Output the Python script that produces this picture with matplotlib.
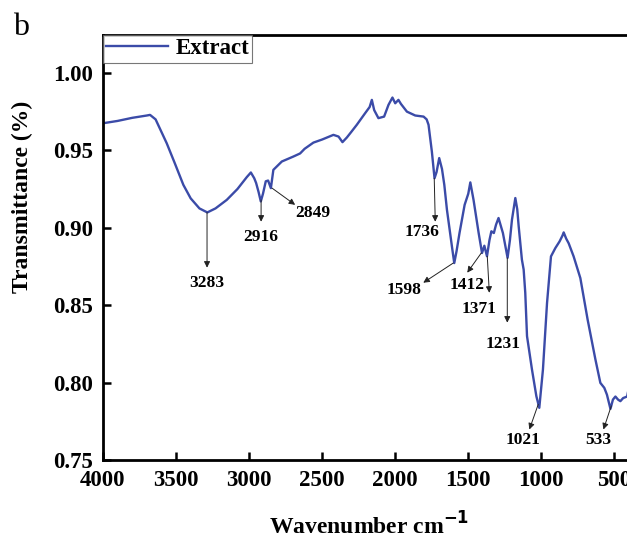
import matplotlib
matplotlib.use("Agg")
import matplotlib.pyplot as plt

plt.rcParams['font.family'] = ['Liberation Serif', 'DejaVu Serif']
plt.rcParams['font.weight'] = 'bold'

wavenumber = [4000, 3900, 3800, 3700, 3678, 3640, 3564, 3510, 3450, 3400, 3340, 3286,
              3230, 3153, 3080, 3016, 2988, 2965, 2952, 2935, 2920, 2905, 2886, 2870,
              2851, 2834, 2776, 2697, 2651, 2620, 2560, 2500, 2423, 2388, 2361, 2331,
              2300, 2263, 2206, 2175, 2160, 2144, 2115, 2076, 2046, 2019, 2000, 1978,
              1961, 1920, 1863, 1806, 1785, 1772, 1749, 1731, 1717, 1699, 1680, 1664,
              1646, 1612, 1596, 1580, 1560, 1525, 1500, 1486, 1464, 1429, 1406, 1390,
              1372, 1355, 1342, 1325, 1310, 1293, 1263, 1231, 1215, 1201, 1178, 1165,
              1155, 1133, 1121, 1110, 1098, 1064, 1034, 1014, 989, 961, 934, 904, 875,
              855, 847, 830, 813, 779, 733, 683, 630, 596, 569, 551, 527, 510, 493,
              475, 459, 440, 413, 400]
transmittance = [0.9675, 0.969, 0.971, 0.9725, 0.9729, 0.970, 0.9546, 0.942, 0.9277, 0.919,
                 0.9125, 0.9099, 0.9125, 0.918, 0.925, 0.9327, 0.9357, 0.932, 0.9289, 0.923,
                 0.917, 0.922, 0.930, 0.9305, 0.9256, 0.9374, 0.9428, 0.946, 0.948, 0.951,
                 0.955, 0.957, 0.960, 0.9589, 0.9553, 0.9583, 0.962, 0.9665, 0.974, 0.978,
                 0.9826, 0.976, 0.9708, 0.9718, 0.9794, 0.9841, 0.9804, 0.9826, 0.980, 0.975,
                 0.9725, 0.9718, 0.970, 0.9665, 0.949, 0.932, 0.936, 0.945, 0.938, 0.9277,
                 0.9116, 0.888, 0.8772, 0.885, 0.8966, 0.9148, 0.922, 0.9293, 0.918, 0.8966,
                 0.8837, 0.8884, 0.8816, 0.892, 0.8977, 0.8966, 0.902, 0.9063, 0.8966, 0.8806,
                 0.892, 0.9052, 0.9192, 0.912, 0.9009, 0.8794, 0.873, 0.858, 0.830, 0.8084,
                 0.7912, 0.7837, 0.8084, 0.8514, 0.8815, 0.8869, 0.8912, 0.895, 0.897, 0.893,
                 0.890, 0.8815, 0.8675, 0.8406, 0.815, 0.7998, 0.7966, 0.7922, 0.783, 0.789,
                 0.791, 0.789, 0.788, 0.790, 0.791, 0.797]

# annotations: label, point on curve, arrow tip, text centre
peak_labels = ['3283', '2916', '2849', '1736', '1598', '1412', '1371', '1231', '1021', '533']
peak_points = [(3288, 0.9099), (2918, 0.918), (2843, 0.9256), (1733, 0.932), (1603, 0.8772),
               (1411, 0.8837), (1370, 0.8816), (1233, 0.8806), (1021, 0.7860), (521, 0.7850)]
arrow_tips = [(3288, 0.8742), (2918, 0.9039), (2685, 0.9148), (1726, 0.9039), (1808, 0.8645),
              (1507, 0.871), (1356, 0.858), (1233, 0.8387), (1082, 0.7697), (575, 0.7697)]
text_pos = [(3288, 0.8645), (2918, 0.8942), (2562, 0.9097), (1815, 0.8974), (1938, 0.860),
            (1507, 0.8632), (1425, 0.8477), (1260, 0.8252), (1123, 0.7632), (610, 0.7632)]

fig = plt.figure(figsize=(6.27, 5.39), dpi=100)
ax = fig.add_axes([103 / 627, 79 / 539, 526 / 627, 425 / 539])

line_color = '#3B4BA8'
ax.plot(wavenumber, transmittance, color=line_color, lw=1.7, label='Extract')

for lab, p, tip, tp in zip(peak_labels, peak_points, arrow_tips, text_pos):
    ax.annotate('', xy=tip, xytext=p,
                arrowprops=dict(arrowstyle='-|>', color='#222222', lw=0.7,
                                mutation_scale=9, shrinkA=0, shrinkB=0))
    ax.text(tp[0], tp[1], lab, ha='center', va='center', fontsize=12.5, fontweight='bold')

ax.set_xlim(4000, 400)
ax.set_ylim(0.75, 1.0245)
ax.set_xticks([4000, 3500, 3000, 2500, 2000, 1500, 1000, 500])
ax.set_yticks([0.75, 0.80, 0.85, 0.90, 0.95, 1.00])
ax.set_yticklabels(['0.75', '0.80', '0.85', '0.90', '0.95', '1.00'])

for s in ['left', 'bottom', 'top']:
    ax.spines[s].set_linewidth(2.0)
ax.spines['right'].set_visible(False)
ax.tick_params(direction='in', length=6, width=1.8, labelsize=16.5, pad=7)
for lbl in ax.get_xticklabels() + ax.get_yticklabels():
    lbl.set_fontweight('bold')

ax.set_xlabel('Wavenumber cm$^{\\mathbf{-1}}$', fontsize=17, fontweight='bold', va='top')
ax.xaxis.set_label_coords(0.505, -0.124)
ax.set_ylabel('Transmittance (%)', fontsize=17, fontweight='bold')
ax.yaxis.set_label_coords(-0.133, 0.618)

leg = ax.legend(loc='upper left', bbox_to_anchor=(0.0, 1.0), frameon=True,
                fancybox=False, edgecolor='#555555', borderpad=0.15, handlelength=2.7,
                handletextpad=0.3, borderaxespad=0.0, prop={'weight': 'bold', 'size': 16.5})
leg.get_frame().set_linewidth(0.8)

fig.text(13 / 627, 1 - 35 / 539, 'b', fontsize=23, fontweight='normal', ha='left', va='baseline')

fig.savefig('out.png', dpi=100)
